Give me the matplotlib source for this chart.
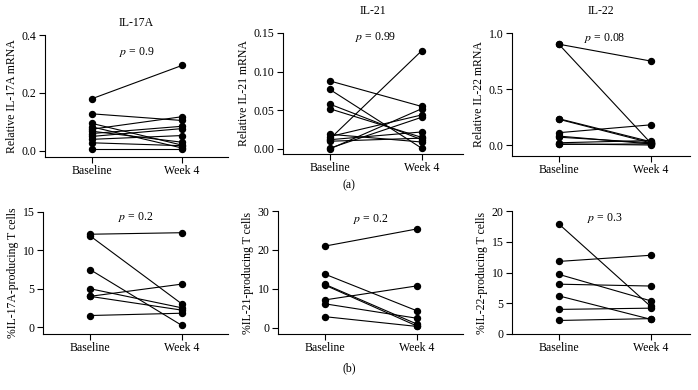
import numpy as np
import matplotlib
matplotlib.use('Agg')
import matplotlib.pyplot as plt

plt.rcParams['font.family'] = ['Liberation Serif', 'DejaVu Serif']
plt.rcParams['font.size'] = 8.5
plt.rcParams['mathtext.fontset'] = 'stix'

groups = ['Baseline', 'Week 4']

# top row: relative mRNA
il17a_base = [0.18, 0.128, 0.095, 0.083, 0.075, 0.068, 0.060, 0.050, 0.040, 0.028, 0.005]
il17a_wk4 = [0.295, 0.105, 0.020, 0.010, 0.118, 0.030, 0.085, 0.077, 0.053, 0.018, 0.005]

il21_base = [0.088, 0.077, 0.058, 0.052, 0.013, 0.016, 0.012, 0.019, 0.010, 0.001, 0.000]
il21_wk4 = [0.055, 0.001, 0.012, 0.015, 0.127, 0.044, 0.022, 0.009, 0.014, 0.041, 0.052]

il22_base = [0.90, 0.90, 0.235, 0.23, 0.11, 0.08, 0.07, 0.02, 0.01, 0.005]
il22_wk4 = [0.75, 0.02, 0.03, 0.02, 0.18, 0.01, 0.02, 0.04, 0.00, 0.01]

# bottom row: % producing T cells
t17_base = [12.1, 11.9, 7.5, 5.0, 4.0, 4.0, 1.5]
t17_wk4 = [12.3, 3.0, 0.2, 2.5, 5.6, 2.2, 1.8]

t21_base = [21.0, 13.8, 11.2, 11.0, 7.2, 6.2, 2.9]
t21_wk4 = [25.4, 4.4, 1.0, 0.5, 10.8, 2.5, 0.4]

t22_base = [17.9, 11.8, 9.7, 8.1, 6.2, 4.0, 2.2]
t22_wk4 = [4.5, 12.8, 5.4, 7.8, 2.4, 4.2, 2.5]

W, H = 698, 390
fig = plt.figure(figsize=(W / 100, H / 100), dpi=100)


def panel(left, right, top, bottom, base, wk4, ylim, yticks, yticklabels,
          ylabel, xlim, ptext, py, title=None, title_y=None):
    ax = fig.add_axes([left / W, 1 - bottom / H, (right - left) / W, (bottom - top) / H])
    for b, w in zip(base, wk4):
        ax.plot([0, 1], [b, w], color='black', lw=0.8, marker='o', ms=4.3,
                mfc='black', mec='black', clip_on=False)
    ax.set_xlim(*xlim)
    ax.set_ylim(*ylim)
    ax.set_xticks([0, 1])
    ax.set_xticklabels(groups)
    ax.set_yticks(yticks)
    ax.set_yticklabels(yticklabels)
    ax.set_ylabel(ylabel, labelpad=3)
    ax.spines['top'].set_visible(False)
    ax.spines['right'].set_visible(False)
    ax.spines['left'].set_bounds(ylim[0], yticks[-1])
    ax.tick_params(direction='out', length=4, width=0.8, pad=2)
    for s in ('left', 'bottom'):
        ax.spines[s].set_linewidth(0.8)
    ax.text(0.5, py, '$p$ = ' + ptext, ha='center', va='center')
    if title:
        fig.text((left + right) / 2 / W, 1 - title_y / H, title,
                 ha='center', va='center')
    return ax


panel(45, 228, 35, 157, il17a_base, il17a_wk4, (-0.021, 0.4),
      [0.0, 0.2, 0.4], ['0.0', '0.2', '0.4'], 'Relative IL-17A mRNA',
      (-0.52, 1.51), '0.9', 0.34, 'IL-17A', 23)
panel(283, 463, 33, 154, il21_base, il21_wk4, (-0.0065, 0.15),
      [0.0, 0.05, 0.10, 0.15], ['0.00', '0.05', '0.10', '0.15'],
      'Relative IL-21 mRNA', (-0.51, 1.45), '0.99', 0.145, 'IL-21', 11)
panel(512, 690, 33, 156, il22_base, il22_wk4, (-0.098, 1.0),
      [0.0, 0.5, 1.0], ['0.0', '0.5', '1.0'], 'Relative IL-22 mRNA',
      (-0.51, 1.43), '0.08', 0.955, 'IL-22', 11)

panel(43, 228, 212, 334, t17_base, t17_wk4, (-0.91, 15),
      [0, 5, 10, 15], ['0', '5', '10', '15'], '%IL-17A-producing T cells',
      (-0.51, 1.50), '0.2', 14.3)
panel(278, 463, 211, 334, t21_base, t21_wk4, (-1.54, 30),
      [0, 10, 20, 30], ['0', '10', '20', '30'], '%IL-21-producing T cells',
      (-0.51, 1.50), '0.2', 28)
panel(512, 690, 211, 334, t22_base, t22_wk4, (0, 20),
      [0, 5, 10, 15, 20], ['0', '5', '10', '15', '20'], '%IL-22-producing T cells',
      (-0.51, 1.43), '0.3', 18.9)

fig.text(349 / W, 1 - 185 / H, '(a)', ha='center', va='center')
fig.text(349 / W, 1 - 368 / H, '(b)', ha='center', va='center')

fig.savefig('out.png', dpi=100)
